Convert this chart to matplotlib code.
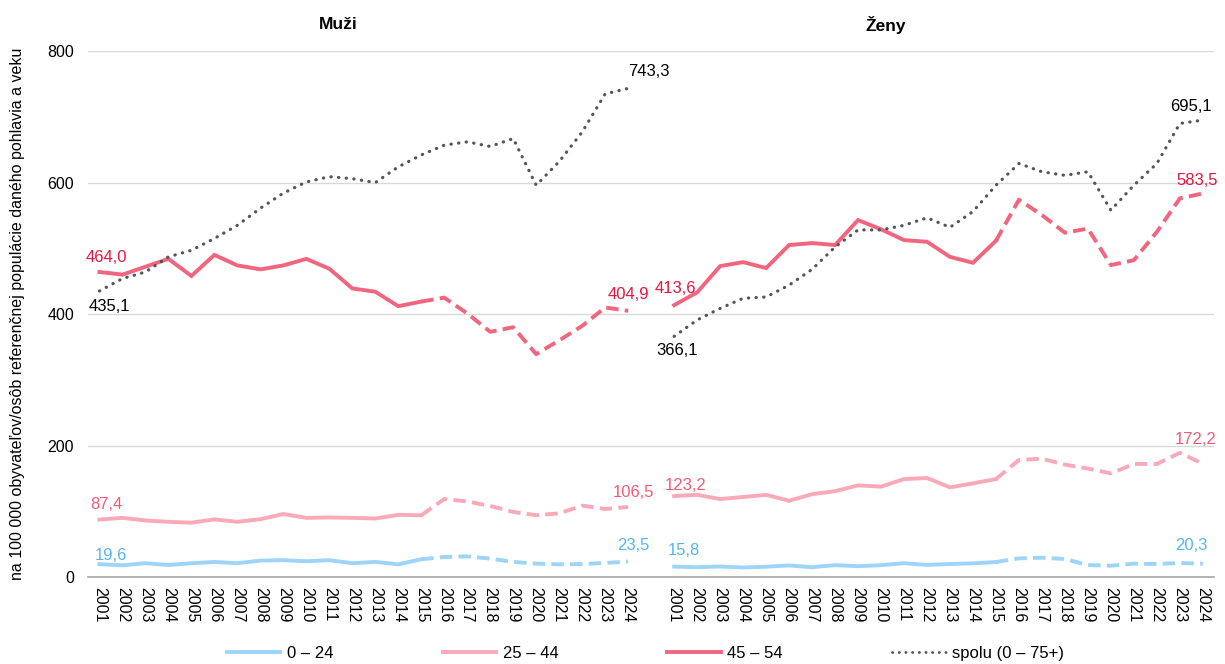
import numpy as np
import matplotlib
matplotlib.use("Agg")
import matplotlib.pyplot as plt
from matplotlib.lines import Line2D
import matplotlib.transforms as mtransforms

plt.rcParams['font.family'] = ['Liberation Sans', 'DejaVu Sans']

years = list(range(2001, 2025))
panels = ["Muži", "Ženy"]

# Muži
muzi_0_24 = [19.6, 17.8, 21.0, 18.3, 21.0, 22.9, 21.0, 25.0, 25.6, 24.0, 25.6, 21.0,
             23.0, 19.3, 27.0, 30.4, 31.4, 28.0, 23.0, 20.3, 19.3, 19.8, 21.4, 23.5]
muzi_25_44 = [87.4, 90.0, 86.0, 84.0, 82.6, 87.7, 84.0, 88.0, 95.8, 90.0, 90.6, 90.0,
              89.0, 94.6, 94.0, 118.6, 115.0, 108.0, 99.0, 94.0, 96.8, 108.6, 103.5, 106.5]
muzi_45_54 = [464.0, 460, 472, 484, 458, 490, 474, 468, 474, 484, 469, 439,
              434, 412, 419, 425, 401, 373, 380, 339, 360, 382, 410, 404.9]
muzi_spolu = [435.1, 454, 464, 487, 497, 515, 535, 561, 584, 601, 609, 606,
              600, 624, 642, 657, 662, 655, 667, 596, 632, 677, 735, 743.3]

# Ženy
zeny_0_24 = [15.8, 15.0, 16.0, 14.5, 15.7, 17.6, 15.0, 18.0, 16.5, 18.0, 21.0, 18.4,
             19.8, 20.8, 22.8, 28.4, 29.4, 27.4, 18.2, 17.2, 20.3, 19.8, 21.3, 20.3]
zeny_25_44 = [123.2, 125, 118.6, 121.7, 125, 116, 126, 130.6, 139.4, 137.5, 149, 150.6,
              136.4, 142.5, 149, 178, 180, 171, 165, 157.7, 172, 172, 189, 172.2]
zeny_45_54 = [413.6, 433, 473, 479, 470, 505, 508, 505, 543, 529, 512.5, 510,
              487, 478, 511.5, 574, 550.6, 523.7, 530, 474.5, 482, 525, 576, 583.5]
zeny_spolu = [366.1, 391, 408.6, 424, 426, 444, 468, 502, 528, 528, 535, 546.5,
              532, 556, 596, 629, 616.5, 611, 616.5, 558, 596, 629, 690, 695.1]

series_names = ["0 – 24", "25 – 44", "45 – 54", "spolu (0 – 75+)"]
colors = ["#9dd4f8", "#f9a9b8", "#f2657e", "#555555"]
label_colors = ["#55b5f3", "#f05c78", "#e5173f", "#000000"]

data = {
    "Muži": [muzi_0_24, muzi_25_44, muzi_45_54, muzi_spolu],
    "Ženy": [zeny_0_24, zeny_25_44, zeny_45_54, zeny_spolu],
}

# label offsets in pixels (first point, last point) per series
offsets = {
    "Muži": [((11, 9), (5, 16)), ((7, 15), (5, 15)), ((7, 15), (0, 16)), ((10, -16), (21, 17))],
    "Ženy": [((10, 16), (-12, 18)), ((11, 11), (-7, 24)), ((1, 17), (-6, 13)), ((3, -14), (-12, 14))],
}

n = len(years)
fig = plt.figure(figsize=(12.25, 6.64), dpi=100)
ax = fig.add_axes([0.0718, 0.131, 0.9195, 0.792])

split = years.index(2015)
ticks = []
ticklabels = []
for p, sex in enumerate(panels):
    x = np.arange(n) + p * (n + 1)
    ticks += list(x)
    ticklabels += [str(y) for y in years]
    for i, vals in enumerate(data[sex]):
        v = np.array(vals, dtype=float)
        if i == 3:
            ax.plot(x, v, color=colors[i], lw=2.3, linestyle=(0, (0.1, 2.3)),
                    dash_capstyle='round', zorder=4)
        else:
            ax.plot(x[:split + 1], v[:split + 1], color=colors[i], lw=2.8,
                    solid_joinstyle='miter', zorder=3)
            ax.plot(x[split:], v[split:], color=colors[i], lw=2.8,
                    linestyle=(0, (3.2, 1.6)), zorder=3)
        (d0, d1) = offsets[sex][i]
        for idx, d in ((0, d0), (n - 1, d1)):
            ax.annotate(f"{v[idx]:.1f}".replace(".", ","), (x[idx], v[idx]),
                        xytext=d, textcoords="offset pixels", ha="center",
                        va="center", fontsize=12, color=label_colors[i])

trans = mtransforms.blended_transform_factory(ax.transData, ax.transAxes)
ax.text(10.4, 1.05, "Muži", transform=trans, ha="center", va="center",
        fontsize=12.5, fontweight="bold")
ax.text(34.2, 1.05, "Ženy", transform=trans, ha="center", va="center",
        fontsize=12.5, fontweight="bold")

ax.set_xlim(-0.5, 2 * n + 0.5)
ax.set_ylim(0, 800)
ax.set_yticks([0, 200, 400, 600, 800])
ax.set_xticks(ticks)
ax.set_xticklabels(ticklabels, rotation=270)
ax.tick_params(axis="both", length=0, labelsize=11.5)
ax.tick_params(axis="x", pad=7)
ax.tick_params(axis="y", pad=10)
ax.grid(axis="y", color="#d9d9d9", lw=1)
ax.set_axisbelow(True)
for s in ["top", "right", "left"]:
    ax.spines[s].set_visible(False)
ax.spines["bottom"].set_color("#a6a6a6")
ax.spines["bottom"].set_linewidth(1.2)

ax.set_ylabel("na 100 000 obyvateľov/osôb referenčnej populácie daného pohlavia a veku",
              fontsize=11.5, labelpad=16)

handles = [
    Line2D([], [], color=colors[0], lw=2.8),
    Line2D([], [], color=colors[1], lw=2.8),
    Line2D([], [], color=colors[2], lw=2.8),
    Line2D([], [], color=colors[3], lw=2.0, linestyle=(0, (0.1, 2.3)),
           dash_capstyle='round'),
]
fig.legend(handles, series_names, loc="center", bbox_to_anchor=(0.527, 0.0165),
           ncol=4, frameon=False, fontsize=12, handlelength=3.2,
           handletextpad=0.4, columnspacing=6.55)

fig.savefig("out.png", dpi=100)
